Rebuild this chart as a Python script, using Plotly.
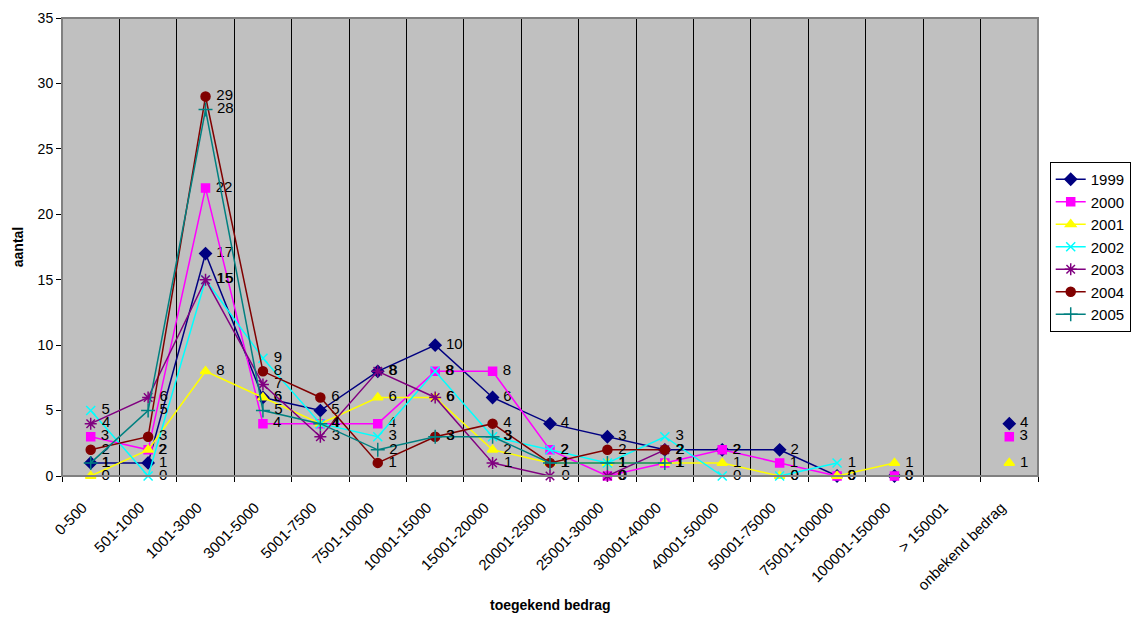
import plotly.graph_objects as go

categories = ["0-500", "501-1000", "1001-3000", "3001-5000", "5001-7500", "7501-10000",
              "10001-15000", "15001-20000", "20001-25000", "25001-30000", "30001-40000",
              "40001-50000", "50001-75000", "75001-100000", "100001-150000", "> 150001",
              "onbekend bedrag"]

N = None
y1999 = [1, 1, 17, 6, 5, 8, 10, 6, 4, 3, 2, 2, 2, 0, 0, N, 4]
y2000 = [3, 2, 22, 4, 4, 4, 8, 8, 2, 0, 1, 2, 1, 0, 0, N, 3]
y2001 = [0, 2, 8, 6, 4, 6, 6, 2, 1, 1, 1, 1, 0, 0, 1, N, 1]
y2002 = [5, 0, 15, 9, 4, 3, 8, 3, 2, 1, 3, 0, 0, 1, N, N, N]
y2003 = [4, 6, 15, 7, 3, 8, 6, 1, 0, 0, 2, N, N, N, N, N, N]
y2004 = [2, 3, 29, 8, 6, 1, 3, 4, 1, 2, 2, N, N, N, N, N, N]
y2005 = [1, 5, 28, 5, 4, 2, 3, 3, 1, 1, 1, N, N, N, N, N, N]

series = [
    ("1999", y1999, "#000080", "diamond", 9),
    ("2000", y2000, "#FF00FF", "square", 8),
    ("2001", y2001, "#FFFF00", "triangle-up", 9),
    ("2002", y2002, "#00FFFF", "x-thin-open", 9),
    ("2003", y2003, "#800080", "asterisk-open", 10),
    ("2004", y2004, "#800000", "circle", 9),
    ("2005", y2005, "#008080", "cross-thin-open", 10),
]

fig = go.Figure()
for name, vals, color, symbol, size in series:
    fig.add_trace(go.Scatter(
        x=categories, y=vals, name=name,
        mode="lines+markers+text",
        text=["" if v is None else " " + str(v) for v in vals],
        textposition="middle right",
        textfont=dict(family="Liberation Sans, Arial", size=15, color="black"),
        line=dict(color=color, width=1.5),
        marker=dict(symbol=symbol, size=size, color=color,
                    line=dict(color=color, width=1.5)),
        connectgaps=False,
        cliponaxis=False,
    ))

fig.update_layout(
    width=1147, height=622,
    margin=dict(l=62, r=109, t=10, b=146),
    paper_bgcolor="white",
    plot_bgcolor="#C0C0C0",
    font=dict(family="Liberation Sans, Arial", size=14, color="black"),
    showlegend=True,
    legend=dict(
        x=1.012, y=0.5, xanchor="left", yanchor="middle",
        bgcolor="white", bordercolor="black", borderwidth=1,
        font=dict(size=15), tracegroupgap=0, itemwidth=30,
    ),
    xaxis=dict(
        type="category", categoryorder="array", categoryarray=categories,
        range=[-0.5, 16.5], tickson="boundaries",
        showgrid=True, gridcolor="black", gridwidth=1,
        ticks="outside", ticklen=5, tickcolor="black",
        tickangle=-45, tickfont=dict(size=15),
        ticklabelstandoff=16, ticklabelshift=-8,
        showline=True, linecolor="black", linewidth=1,
        zeroline=False,
    ),
    yaxis=dict(
        range=[0, 35], dtick=5, showgrid=False,
        ticks="outside", ticklen=5, tickcolor="black",
        tickfont=dict(size=14),
        showline=True, linecolor="black", linewidth=1,
        title=dict(text="<b>aantal</b>", font=dict(size=14), standoff=10),
        zeroline=False,
    ),
)

# x-axis title placed below the slanted category labels
fig.add_annotation(text="<b>toegekend bedrag</b>", xref="paper", yref="paper",
                   x=0.5, y=-0.281, xanchor="center", yanchor="middle",
                   showarrow=False, font=dict(size=14))

# grey frame round the plot area
fig.add_shape(type="rect", xref="paper", yref="paper", x0=0, y0=0, x1=1, y1=1,
              line=dict(color="#808080", width=2), layer="above")

fig.write_html("out.html")
